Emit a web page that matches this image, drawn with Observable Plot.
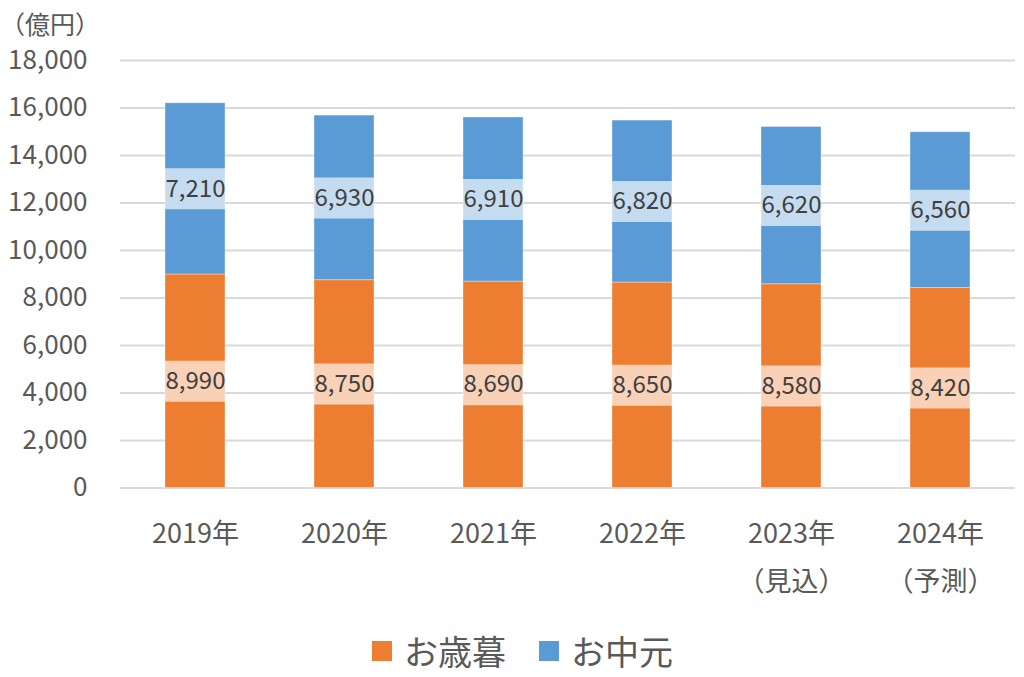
<!DOCTYPE html>
<html><head><meta charset="utf-8">
<script src="https://cdn.jsdelivr.net/npm/d3@7"></script>
<script src="https://cdn.jsdelivr.net/npm/@observablehq/plot@0.6"></script>
<style>
body{margin:0;background:#fff;font-family:"Noto Sans CJK JP",sans-serif;}
#wrap{position:relative;width:1024px;height:677px;overflow:hidden;}
#unit{position:absolute;left:0;top:9px;font-size:25px;color:#595959;line-height:28px;}
#legend{position:absolute;left:0;top:626px;width:1024px;}
.lg-swatch > svg{margin-right:12px !important;}
.lg-swatch{margin-right:33px !important;}
</style></head>
<body><div id="wrap"><div id="chart"></div><div id="unit">（億円）</div><div id="legend"></div></div>
<script>
const years = ["2019","2020","2021","2022","2023","2024"];
const yearLabels = ["2019年","2020年","2021年","2022年","2023年\n（見込）","2024年\n（予測）"];
const seiboValues = [8990, 8750, 8690, 8650, 8580, 8420];
const chugenValues = [7210, 6930, 6910, 6820, 6620, 6560];
const seriesNames = ["お歳暮", "お中元"];
const seriesColors = ["#ED7D31", "#5B9BD5"];
const yTicks = [0,2000,4000,6000,8000,10000,12000,14000,16000,18000];

const rows = [];
years.forEach((yr, i) => {
  const a = seiboValues[i], b = chugenValues[i];
  rows.push({year: yr, series: seriesNames[0], value: a, y1: 0, y2: a, mid: a / 2});
  rows.push({year: yr, series: seriesNames[1], value: b, y1: a, y2: a + b, mid: a + b / 2});
});
const labelOf = new Map(years.map((y, i) => [y, yearLabels[i]]));
const font = "Noto Sans CJK JP";

const chart = Plot.plot({
  width: 1024, height: 620,
  marginTop: 60, marginBottom: 132.5, marginLeft: 120, marginRight: 9,
  style: {fontFamily: font, background: "#fff"},
  x: {domain: years, paddingInner: 0.6, paddingOuter: 0.3, label: null},
  y: {domain: [0, 18000], label: null},
  color: {domain: seriesNames, range: seriesColors},
  marks: [
    Plot.gridY(yTicks, {stroke: "#d9d9d9", strokeOpacity: 1, strokeWidth: 2}),
    Plot.barY(rows, {x: "year", y1: "y1", y2: "y2", fill: "series", stroke: "white", strokeOpacity: 0.35, strokeWidth: 1}),
    Plot.tickY(rows, {x: "year", y: "mid", stroke: "white", strokeOpacity: 0.65, strokeWidth: 41}),
    Plot.text(rows, {x: "year", y: "mid", text: d => d3.format(",")(d.value), fontSize: 24, fill: "#404040", fontFamily: font}),
    Plot.axisY({ticks: yTicks, tickFormat: d3.format(","), tickSize: 0, tickPadding: 33, fontSize: 26, fill: "#595959", fontFamily: font, label: null}),
    Plot.axisX({tickSize: 0, tickPadding: 20, fontSize: 27, lineHeight: 1.8, fill: "#595959", fontFamily: font, tickFormat: d => labelOf.get(d), label: null})
  ]
});
document.getElementById("chart").appendChild(chart);

const lg = Plot.legend({
  color: {type: "categorical", domain: seriesNames, range: seriesColors},
  swatchSize: 20, className: "lg",
  style: {fontFamily: font, fontSize: "34px", color: "#595959", justifyContent: "center", marginLeft: "54px"}
});
document.getElementById("legend").appendChild(lg);
</script></body></html>
